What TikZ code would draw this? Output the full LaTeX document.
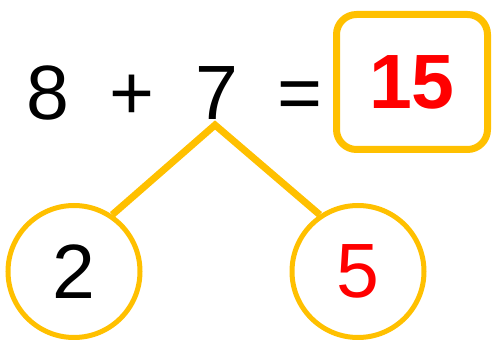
\documentclass[tikz,border=0pt]{standalone}
\usepackage{fontspec}
\setmainfont{Liberation Sans}
\definecolor{gold}{HTML}{FFC000}
\definecolor{ansred}{HTML}{FF0000}

\begin{document}
\begin{tikzpicture}[x=1pt, y=-1pt,
  num/.style={font=\fontsize{77}{80}\selectfont, inner sep=0pt, anchor=base},
  ring/.style={circle, draw=gold, line width=5pt, minimum size=132pt, inner sep=0pt, font=\fontsize{77}{80}\selectfont},
  ansbox/.style={draw=gold, line width=7pt, rounded corners=20pt, minimum width=151pt, minimum height=135pt, inner sep=0pt, font=\fontsize{77}{80}\selectfont\bfseries, text=ansred},
  link/.style={draw=gold, line width=7pt},
]
  \useasboundingbox (0,0) rectangle (501,347);
  \node[num] (eight) at (47.5,120) {8};
  \node[num] (plus) at (131.5,120) {+};
  \node[num] (seven) at (216.5,120) {7};
  \node[num] (equals) at (300,120) {=};
  \node[ansbox] (sum) at (412,82) {15};
  \node[ring] (left) at (74,271.5) {2};
  \node[ring, text=ansred] (right) at (358,271.5) {5};
  \coordinate (apex) at (215,125);
  \draw[link] (left.56) -- (apex) -- (right.124);
\end{tikzpicture}
\end{document}
